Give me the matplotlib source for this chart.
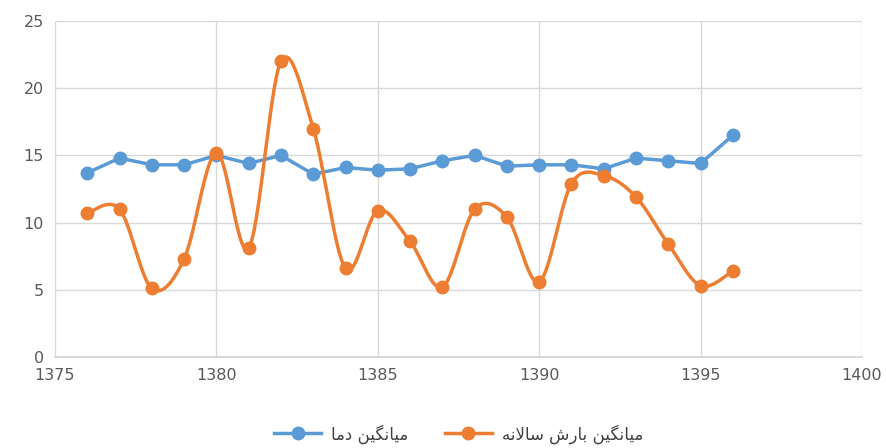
import numpy as np
import matplotlib
matplotlib.use("Agg")
import matplotlib.pyplot as plt

years = [1376, 1377, 1378, 1379, 1380, 1381, 1382, 1383, 1384, 1385, 1386,
         1387, 1388, 1389, 1390, 1391, 1392, 1393, 1394, 1395, 1396]
temp = [13.7, 14.8, 14.3, 14.3, 15.0, 14.4, 15.0, 13.6, 14.1, 13.9, 14.0,
        14.6, 15.0, 14.2, 14.3, 14.3, 14.0, 14.8, 14.6, 14.4, 16.5]
rain = [10.7, 11.0, 5.1, 7.3, 15.2, 8.1, 22.0, 17.0, 6.6, 10.9, 8.6,
        5.2, 11.0, 10.4, 5.6, 12.9, 13.5, 11.9, 8.4, 5.3, 6.4]

# labels written with arabic presentation forms (logical order), reversed for display
lbl_temp = "\uFEE3\uFBFF\uFE8E\uFEE7\uFB95\uFBFF\uFEE6 \uFEA9\uFEE3\uFE8E"[::-1]
lbl_rain = ("\uFEE3\uFBFF\uFE8E\uFEE7\uFB95\uFBFF\uFEE6 \uFE91\uFE8E\uFEAD\uFEB5 "
            "\uFEB3\uFE8E\uFEFB\uFEE7\uFEEA")[::-1]

BLUE = "#5B9BD5"
ORANGE = "#ED7D31"


def smooth(x, y, n=30):
    # excel style bezier smoothing
    x = np.asarray(x, float)
    y = np.asarray(y, float)
    px = np.concatenate([[x[0]], x, [x[-1]]])
    py = np.concatenate([[y[0]], y, [y[-1]]])
    t = np.linspace(0, 1, n)
    xs, ys = [], []
    for i in range(1, len(px) - 2):
        p0x, p1x, p2x, p3x = px[i - 1], px[i], px[i + 1], px[i + 2]
        p0y, p1y, p2y, p3y = py[i - 1], py[i], py[i + 1], py[i + 2]
        c1x = p1x + (p2x - p0x) / 6
        c1y = p1y + (p2y - p0y) / 6
        c2x = p2x - (p3x - p1x) / 6
        c2y = p2y - (p3y - p1y) / 6
        bx = (1-t)**3*p1x + 3*(1-t)**2*t*c1x + 3*(1-t)*t**2*c2x + t**3*p2x
        by = (1-t)**3*p1y + 3*(1-t)**2*t*c1y + 3*(1-t)*t**2*c2y + t**3*p2y
        xs.extend(bx)
        ys.extend(by)
    return xs, ys


fig = plt.figure(figsize=(8.86, 4.48), dpi=100)
ax = fig.add_axes([55/886, 1-357/448, (862-55)/886, (357-21)/448])

ax.plot(years, temp, color=BLUE, lw=2.5, marker="o", ms=9,
        label=lbl_temp, zorder=3)
sx, sy = smooth(years, rain)
ax.plot(sx, sy, color=ORANGE, lw=2.5, zorder=3)
ax.plot(years, rain, color=ORANGE, lw=0, marker="o", ms=9, zorder=4)
ax.plot([], [], color=ORANGE, lw=2.5, marker="o", ms=9, label=lbl_rain)

ax.set_xlim(1375, 1400)
ax.set_ylim(0, 25)
ax.set_xticks(range(1375, 1401, 5))
ax.set_yticks(range(0, 26, 5))
ax.grid(True, color="#d9d9d9", lw=1)
ax.set_axisbelow(True)
for s in ax.spines.values():
    s.set_visible(False)
ax.plot([1375, 1400], [0, 0], color="#d0d0d0", lw=1.2, zorder=1, clip_on=False)
ax.tick_params(length=0, labelsize=11.5, labelcolor="#595959", pad=8)

ax.legend(loc="upper center", bbox_to_anchor=(0.5, -0.155), ncol=2,
          frameon=False, fontsize=12, handlelength=2.8, columnspacing=2.2,
          handletextpad=0.6, labelcolor="#404040")

fig.savefig("out.png", dpi=100)
